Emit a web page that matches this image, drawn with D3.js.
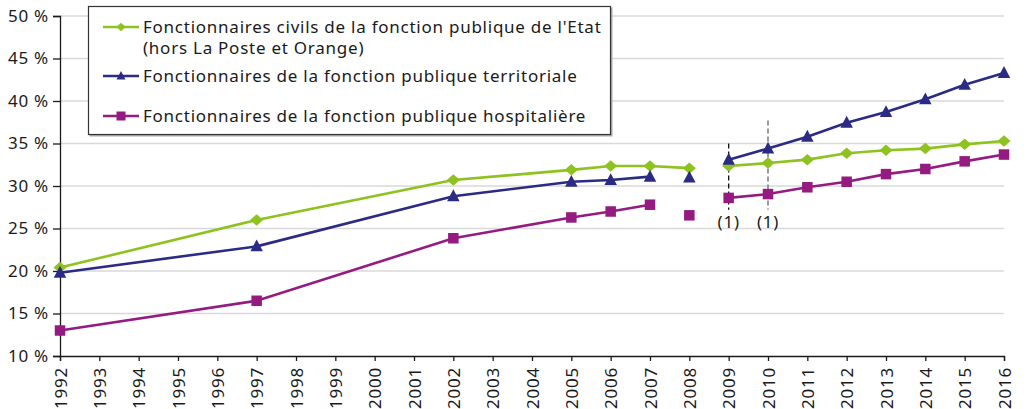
<!DOCTYPE html>
<html>
<head>
<meta charset="utf-8">
<script src="https://cdn.jsdelivr.net/npm/d3@7"></script>
<style>
  body { margin: 0; background: #fff; }
  svg { display: block; font-family: "Noto Sans", sans-serif; }
</style>
</head>
<body>
<svg width="1027" height="409"></svg>
<script>
// axis categories and ticks
var years = [1992, 1993, 1994, 1995, 1996, 1997, 1998, 1999, 2000, 2001, 2002, 2003,
    2004, 2005, 2006, 2007, 2008, 2009, 2010, 2011, 2012, 2013, 2014, 2015, 2016];
var yTicks = [10, 15, 20, 25, 30, 35, 40, 45, 50];

// years that have a value
var pointYears = [1992, 1997, 2002, 2005, 2006, 2007, 2008, 2009, 2010, 2011, 2012, 2013, 2014, 2015, 2016];
var etat = [20.4, 26.0, 30.7, 31.9, 32.35, 32.35, 32.1, 32.35, 32.7, 33.1, 33.85, 34.2, 34.4, 34.9, 35.3];
var territoriale = [19.8, 22.9, 28.8, 30.5, 30.7, 31.1, 31.0, 33.1, 34.4, 35.8, 37.45, 38.7, 40.2, 41.9, 43.3];
var hospitaliere = [13.0, 16.5, 23.85, 26.3, 27.0, 27.8, 26.55, 28.6, 29.05, 29.85, 30.5, 31.4, 32.0, 32.9, 33.7];

// line is broken before these years
var etatBreaks = [2009];
var territorialeBreaks = [2008, 2009];
var hospitaliereBreaks = [2008, 2009];

// "(1)" notes: year and top of the dashed line (in %)
var noteYears = [2009, 2010];
var noteTops = [35, 37.7];

var series = [
    {name: "Fonctionnaires civils de la fonction publique de l'Etat", name2: "(hors La Poste et Orange)",
        values: etat, breaks: etatBreaks, color: "#8dc21f", shape: "diamond"},
    {name: "Fonctionnaires de la fonction publique territoriale",
        values: territoriale, breaks: territorialeBreaks, color: "#2b2b86", shape: "triangle"},
    {name: "Fonctionnaires de la fonction publique hospitalière",
        values: hospitaliere, breaks: hospitaliereBreaks, color: "#951b81", shape: "square"}
];

var FONT = "17px", SPACING = "0.75px";

var svg = d3.select("svg"),
    margin = {top: 16, right: 23, bottom: 53, left: 60},
    width = +svg.attr("width") - margin.left - margin.right,
    height = +svg.attr("height") - margin.top - margin.bottom,
    g = svg.append("g").attr("transform", "translate(" + margin.left + "," + margin.top + ")");

var x = d3.scaleLinear().domain([years[0], years[years.length - 1]]).range([0, width]);
var y = d3.scaleLinear().domain([10, 50]).range([height, 0]);

function markerPath(shape, s) {
    if (shape === "diamond") return "M0," + (-s * 0.46) + "L" + (s * 0.52) + ",0L0," + (s * 0.46) + "L" + (-s * 0.52) + ",0Z";
    if (shape === "triangle") return "M0," + (-s * 0.55) + "L" + (s * 0.5) + "," + (s * 0.4) + "L" + (-s * 0.5) + "," + (s * 0.4) + "Z";
    return "M" + (-s / 2) + "," + (-s / 2) + "h" + s + "v" + s + "h" + (-s) + "Z";
}

// grid
g.append("g").selectAll("line")
    .data(yTicks.slice(1))
    .enter().append("line")
    .attr("x1", 0).attr("x2", width)
    .attr("y1", function (d) { return y(d); })
    .attr("y2", function (d) { return y(d); })
    .attr("stroke", "#d9d9d9")
    .attr("stroke-width", 1.5);

// axes
var yAxis = g.append("g")
    .call(d3.axisLeft(y).tickValues(yTicks).tickSize(7).tickPadding(4)
        .tickFormat(function (d) { return d + " %"; }));
var xAxis = g.append("g")
    .attr("transform", "translate(0," + height + ")")
    .call(d3.axisBottom(x).tickValues(years).tickSize(5).tickFormat(d3.format("d")));
xAxis.selectAll("text")
    .attr("transform", "rotate(-90)")
    .attr("x", -11).attr("y", 0)
    .attr("dy", "0.36em")
    .attr("text-anchor", "end");
[yAxis, xAxis].forEach(function (a) {
    a.select(".domain").attr("stroke", "#1a1a1a").attr("stroke-width", 1.3);
    a.selectAll(".tick line").attr("stroke", "#1a1a1a").attr("stroke-width", 1.3);
    a.selectAll("text").attr("fill", "#1a1a1a")
        .style("font-size", FONT).style("letter-spacing", SPACING).style("font-family", "Noto Sans");
});

// dashed notes
g.append("g").selectAll("line")
    .data(noteYears)
    .enter().append("line")
    .attr("x1", function (d) { return x(d); })
    .attr("x2", function (d) { return x(d); })
    .attr("y1", function (d, i) { return y(noteTops[i]); })
    .attr("y2", y(27.2))
    .attr("stroke", function (d, i) { return i === 0 ? "#111" : "#666"; })
    .attr("stroke-width", 1.3)
    .attr("stroke-dasharray", "5,3");
g.append("g").selectAll("text")
    .data(noteYears)
    .enter().append("text")
    .attr("x", function (d) { return x(d); })
    .attr("y", y(25.1))
    .attr("text-anchor", "middle")
    .attr("fill", "#1a1a1a")
    .style("font-size", FONT).style("letter-spacing", SPACING)
    .text("(1)");

// lines and markers
var line = d3.line()
    .x(function (d) { return x(d.year); })
    .y(function (d) { return y(d.value); });

series.forEach(function (s) {
    var pts = pointYears.map(function (yr, i) { return {year: yr, value: s.values[i]}; });
    var segs = [[]];
    pts.forEach(function (p) {
        if (s.breaks.indexOf(p.year) >= 0) segs.push([]);
        segs[segs.length - 1].push(p);
    });
    g.append("g").selectAll("path")
        .data(segs.filter(function (d) { return d.length > 1; }))
        .enter().append("path")
        .attr("d", line)
        .attr("fill", "none")
        .attr("stroke", s.color)
        .attr("stroke-width", 2.6);
    g.append("g").selectAll("path")
        .data(pts)
        .enter().append("path")
        .attr("transform", function (d) { return "translate(" + x(d.year) + "," + y(d.value) + ")"; })
        .attr("d", markerPath(s.shape, s.shape === "square" ? 10.5 : 12.5))
        .attr("fill", s.color);
});

// legend
var lg = svg.append("g").attr("transform", "translate(88,6)");
lg.append("rect")
    .attr("x", 1.5).attr("y", 1.5).attr("width", 523).attr("height", 129)
    .attr("fill", "#aaa");
lg.append("rect")
    .attr("x", 0.5).attr("y", 0.5).attr("width", 522).attr("height", 128)
    .attr("fill", "#fff").attr("stroke", "#333").attr("stroke-width", 1.2);
var rowY = [21, 70, 110];
series.forEach(function (s, i) {
    var row = lg.append("g").attr("transform", "translate(0," + rowY[i] + ")");
    row.append("line")
        .attr("x1", 15).attr("x2", 51)
        .attr("stroke", s.color).attr("stroke-width", 2.6);
    row.append("path")
        .attr("transform", "translate(33,0)")
        .attr("d", markerPath(s.shape, 9))
        .attr("fill", s.color);
    row.append("text")
        .attr("x", 55).attr("y", 0).attr("dy", "0.35em")
        .attr("fill", "#1a1a1a")
        .style("font-size", FONT).style("letter-spacing", SPACING)
        .text(s.name);
    if (s.name2) {
        row.append("text")
            .attr("x", 55).attr("y", 21).attr("dy", "0.35em")
            .attr("fill", "#1a1a1a")
            .style("font-size", FONT).style("letter-spacing", SPACING)
            .text(s.name2);
    }
});
</script>
</body>
</html>
